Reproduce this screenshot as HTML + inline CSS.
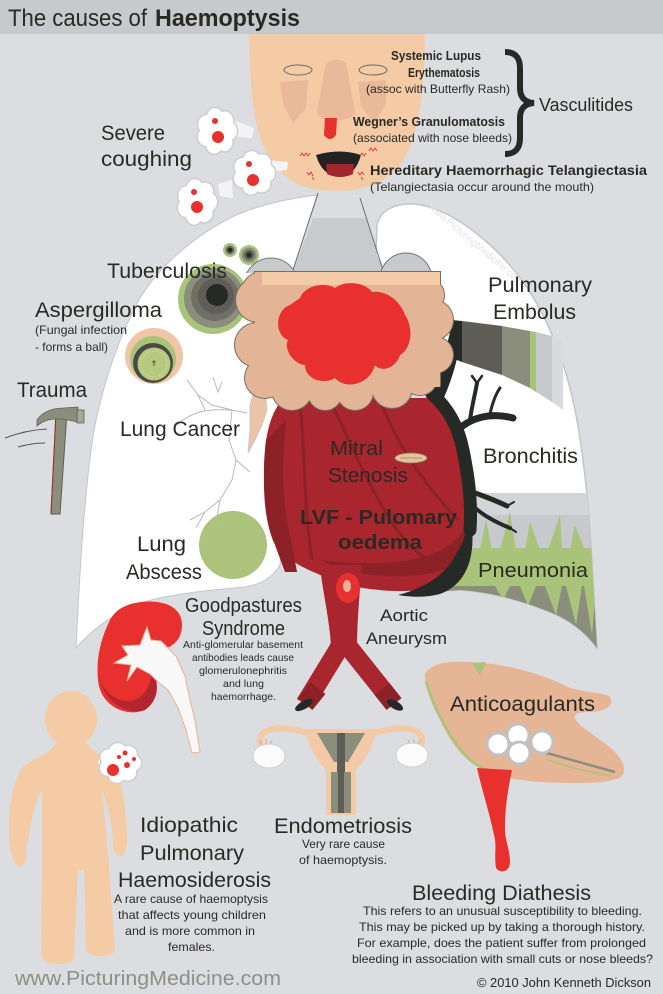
<!DOCTYPE html>
<html><head><meta charset="utf-8"><style>
html,body{margin:0;padding:0;background:#dcdde1;}
svg{display:block;}
</style></head><body>
<svg width="663" height="994" viewBox="0 0 663 994" xmlns="http://www.w3.org/2000/svg" xmlns:xlink="http://www.w3.org/1999/xlink" font-family="'Liberation Sans', sans-serif">
<defs>
<g id="puff">
 <g fill="#cfcfcf">
  <circle cx="0" cy="0" r="14.5"/>
  <circle cx="12" cy="0" r="9.5"/><circle cx="7.4" cy="9.5" r="9.5"/><circle cx="-2.9" cy="11.6" r="9.5"/>
  <circle cx="-11" cy="4.9" r="9.5"/><circle cx="-10.6" cy="-5.6" r="9.5"/><circle cx="-2.1" cy="-11.8" r="9.5"/><circle cx="8" cy="-8.9" r="9.5"/>
 </g>
 <g fill="#ffffff">
  <circle cx="0" cy="0" r="13"/>
  <circle cx="12" cy="0" r="8"/><circle cx="7.4" cy="9.5" r="8"/><circle cx="-2.9" cy="11.6" r="8"/>
  <circle cx="-11" cy="4.9" r="8"/><circle cx="-10.6" cy="-5.6" r="8"/><circle cx="-2.1" cy="-11.8" r="8"/><circle cx="8" cy="-8.9" r="8"/>
 </g>
</g>
<clipPath id="rlung"><path d="M376,255 L377,225 C380,210 395,203 415,204 C450,208 490,240 518,275 C545,310 565,360 575,410 C585,460 590,520 593,580 L597,648 C585,632 570,620 550,612 C520,600 490,592 460,590 L430,592 L430,400 L383,270 Z"/></clipPath>
<clipPath id="abovecloud"><rect x="0" y="0" width="663" height="273"/></clipPath>
</defs>

<!-- background -->
<rect x="0" y="0" width="663" height="994" fill="#dcdde1"/>
<rect x="0" y="0" width="663" height="34" fill="#c8c9cd"/>

<!-- trachea -->
<polygon points="313,218 366,218 383,272 293,272" fill="#c9cacd"/>

<!-- left lung -->
<path d="M318,195 C300,197 260,203 230,218 C195,236 160,265 140,298 C118,338 103,385 94,430 C86,480 82,540 79,590 L76,648 C90,632 110,615 140,603 C170,594 210,590 245,587 C262,584 272,578 280,565 L290,400 L293,270 Z" fill="#ffffff" stroke="#c4c5c9" stroke-width="1"/>
<!-- right lung -->
<path d="M376,255 L377,225 C380,210 395,203 415,204 C450,208 490,240 518,275 C545,310 565,360 575,410 C585,460 590,520 593,580 L597,648 C585,632 570,620 550,612 C520,600 490,592 460,590 L430,592 L430,400 L383,270 Z" fill="#ffffff" stroke="#c4c5c9" stroke-width="1.5"/>

<!-- watermark -->
<text x="0" y="0" transform="translate(428,208) rotate(40)" font-size="10" fill="#e4e4e6" textLength="120" lengthAdjust="spacingAndGlyphs">www.PicturingMedicine.com</text>

<!-- pneumonia region -->
<g clip-path="url(#rlung)">
 <rect x="430" y="493" width="175" height="22" fill="#d4d5d8"/>
 <rect x="430" y="515" width="175" height="35" fill="#c8c9cd"/>
 <g fill="#a9c47a">
  <path d="M480,550 L486,520 L492,550 Z"/><path d="M500,550 L510,512 L516,550 Z"/>
  <path d="M525,550 L530,522 L540,550 Z"/><path d="M548,550 L560,515 L562,550 Z"/>
  <path d="M570,550 L575,525 L585,550 Z"/>
 </g>
 <rect x="430" y="548" width="175" height="40" fill="#a9c47a"/>
 <rect x="430" y="586" width="175" height="80" fill="#8c8e7d"/>
 <g fill="#a9c47a">
  <path d="M495,586 L503,600 L510,586 Z"/><path d="M520,586 L528,606 L536,586 Z"/>
  <path d="M545,586 L556,615 L562,586 Z"/><path d="M566,586 L576,625 L582,586 Z"/>
  <path d="M584,586 L592,635 L596,586 Z"/>
 </g>
</g>

<!-- pulmonary embolus band -->
<path d="M452,320 L462,321 L462,362 L452,358 Z" fill="#262a26"/>
<path d="M462,321 L502,326 L502,375 L462,362 Z" fill="#5d5d55"/>
<path d="M502,326 L530,331 L530,388 L502,375 Z" fill="#8c8e7d"/>
<path d="M530,331 L536,332 L536,392 L530,388 Z" fill="#a9c47a"/>
<path d="M536,332 L552,336 L552,402 L536,392 Z" fill="#c8c9cd"/>
<path d="M552,336 L563,340 L563,410 L552,402 Z" fill="#d9dadd"/>

<!-- tuberculosis -->
<circle cx="230" cy="250" r="7" fill="#a9c47a"/><circle cx="230" cy="250" r="4.5" fill="#6f6f66"/><circle cx="230" cy="250" r="2.5" fill="#262a26"/>
<circle cx="249" cy="255" r="10" fill="#a9c47a"/><circle cx="249" cy="255" r="7.5" fill="#8c8e7d"/><circle cx="249" cy="255" r="5" fill="#5d5d55"/><circle cx="249" cy="255" r="2.5" fill="#262a26"/>
<circle cx="213" cy="299" r="35" fill="#a9c47a"/>
<circle cx="214" cy="298" r="30" fill="#8c8e7d"/>
<circle cx="215" cy="297" r="24" fill="#6f6f66"/>
<circle cx="216" cy="296" r="18" fill="#5d5d55"/>
<circle cx="217" cy="295" r="11" fill="#262a26"/>

<!-- aspergilloma -->
<ellipse cx="154" cy="356" rx="29" ry="28" fill="#f1c6a6"/>
<circle cx="153" cy="359" r="23" fill="#a9c47a"/>
<circle cx="153" cy="363" r="20" fill="#4a4a44"/>
<circle cx="154" cy="364" r="16.5" fill="#b7c97e"/>
<circle cx="154" cy="364" r="13" fill="none" stroke="#d6e0a8" stroke-width="1" stroke-dasharray="1.5,2"/>
<path d="M152,362 L156,362 M154,360 L154,366" stroke="#444" stroke-width="0.8"/>

<!-- lung abscess -->
<circle cx="233" cy="545" r="34" fill="#abc37b"/>

<!-- lung cancer tree -->
<g fill="none" stroke="#b9b9bc" stroke-width="1">
 <path d="M187,380 L198,395 L205,410"/>
 <path d="M213,377 L218,392 L222,382"/>
 <path d="M247,413 C235,410 215,408 200,412 C190,415 182,420 178,425"/>
 <path d="M232,410 L229,440 L236,460 L232,480 L220,500 L205,512 L190,520"/>
 <path d="M236,460 L250,472 M220,500 L216,522 M205,512 L196,528"/>
 <path d="M198,395 L212,405 L232,410"/>
</g>
<path d="M257,383 L265,390 L267,410 L262,425 L255,440 L248,453 L250,430 L250,405 Z" fill="#ecc3a6" stroke="#c9c9cc" stroke-width="1"/>

<!-- trachea lines -->
<path d="M318,193 L293,270" stroke="#6d6d6d" stroke-width="1"/>
<path d="M360,198 L383,270" stroke="#6d6d6d" stroke-width="1"/>

<!-- gray bumps above cloud -->
<g clip-path="url(#abovecloud)">
<circle cx="271" cy="285" r="27" fill="#c8c9cd" stroke="#7a7a74" stroke-width="1"/>
<circle cx="406" cy="279" r="26" fill="#c8c9cd" stroke="#7a7a74" stroke-width="1"/>
</g>

<!-- heart -->
<path d="M285,398 L440,398 C458,408 466,430 468,460 C472,500 472,540 462,565 C450,585 425,592 395,591 C365,590 340,585 318,574 C300,566 285,560 275,540 C265,515 262,480 265,450 C267,425 275,405 285,398 Z" fill="#a9262e"/>
<path d="M266,440 C262,480 263,520 275,545 L285,572 L297,572 L291,540 C283,510 281,470 286,420 Z" fill="#8c2227"/>
<path d="M320,560 C360,580 420,582 455,565 C465,550 470,535 471,515 C460,550 420,572 320,560 Z" fill="#8c2227"/>
<g fill="none" stroke="#8c2227" stroke-width="3">
 <path d="M300,405 C305,440 303,500 312,560"/>
 <path d="M330,400 C345,430 360,470 390,520 C410,550 430,565 455,572"/>
 <path d="M380,400 C395,440 420,480 458,520"/>
</g>
<ellipse cx="411" cy="458" rx="16" ry="5" fill="#e6c29c" stroke="#8c7a60" stroke-width="0.8"/>
<path d="M400,458 L422,458" stroke="#8a8a70" stroke-width="0.8"/>

<!-- bronchitis tree -->
<path d="M452,322 C448,345 440,370 430,392 L442,402 C452,380 460,355 462,325 Z" fill="#262a26"/>
<g fill="none" stroke="#262a26" stroke-linecap="round">
 <path d="M432,394 C447,407 458,425 463,450 C468,475 472,500 470,530" stroke-width="13"/>
 <path d="M458,430 C470,418 490,412 513,418" stroke-width="7"/>
 <path d="M470,420 C472,405 475,395 477,383" stroke-width="4"/>
 <path d="M477,383 L472,376 M477,383 L482,376" stroke-width="2.5"/>
 <path d="M490,414 C492,405 495,395 500,388" stroke-width="3"/>
 <path d="M468,490 C480,495 495,500 507,506" stroke-width="5"/>
 <path d="M472,505 C482,515 495,522 510,528" stroke-width="4"/>
 <path d="M507,506 L514,502 M510,528 L516,532" stroke-width="2"/>
</g>
<path d="M472,528 C475,560 465,585 440,594 C425,598 410,597 398,595 C425,588 445,575 455,556 C462,545 466,535 468,522 Z" fill="#262a26"/>

<!-- aorta -->
<path d="M344,640 L305,704" stroke="#a9262e" stroke-width="19" stroke-linecap="butt"/>
<path d="M343,640 L394,704" stroke="#a9262e" stroke-width="19" stroke-linecap="butt"/>
<path d="M318,688 L305,704" stroke="#8c2227" stroke-width="19"/>
<path d="M382,689 L394,704" stroke="#8c2227" stroke-width="19"/>
<path d="M320,565 L362,565 C360,590 357,620 357,648 L331,648 C330,620 322,590 320,565 Z" fill="#a9262e"/>
<ellipse cx="348" cy="588" rx="12" ry="15" fill="#e8302e"/>
<ellipse cx="347" cy="586" rx="4" ry="6" fill="#e7b296"/>
<ellipse cx="304" cy="705" rx="10" ry="4" transform="rotate(-30 304 705)" fill="#262a26"/>
<ellipse cx="395" cy="705" rx="9" ry="4" transform="rotate(30 395 705)" fill="#262a26"/>

<!-- cloud -->
<g fill="#6f6f68">
 <circle cx="262" cy="292" r="21"/><circle cx="258" cy="300" r="23"/><circle cx="257" cy="345" r="23"/><circle cx="265" cy="378" r="21"/>
 <circle cx="292" cy="390" r="21"/><circle cx="325" cy="393" r="18"/><circle cx="355" cy="392" r="19"/><circle cx="392" cy="388" r="21"/>
 <circle cx="420" cy="378" r="18"/><circle cx="435" cy="355" r="19"/><circle cx="433" cy="320" r="21"/><circle cx="428" cy="295" r="17"/>
 <rect x="254" y="271" width="187" height="116"/>
</g>
<g fill="#e4b496">
 <circle cx="262" cy="292" r="20"/><circle cx="258" cy="300" r="22"/><circle cx="257" cy="345" r="22"/><circle cx="265" cy="378" r="20"/>
 <circle cx="292" cy="390" r="20"/><circle cx="325" cy="393" r="17"/><circle cx="355" cy="392" r="18"/><circle cx="392" cy="388" r="20"/>
 <circle cx="420" cy="378" r="17"/><circle cx="435" cy="355" r="18"/><circle cx="433" cy="320" r="20"/><circle cx="428" cy="295" r="16"/>
 <rect x="255" y="272" width="185" height="115"/>
</g>
<rect x="262" y="272" width="178" height="13" fill="#f3cba7"/>
<path d="M300,298 C305,285 325,282 335,288 C345,280 365,282 372,292 C385,290 400,300 405,315 C415,330 410,350 400,355 C395,370 380,372 375,365 C370,385 345,390 335,378 C325,385 305,380 305,365 C295,365 283,350 288,340 C274,335 275,310 290,305 Z" fill="#e8302e"/>

<!-- face -->
<path d="M249,34 L425,34 C424,100 418,140 400,165 C385,183 365,191 335,191 C305,191 288,182 274,165 C255,140 250,100 249,34 Z" fill="#f5cba6"/>
<path d="M280,82 L308,80 L306,108 L293,123 L283,104 Z" fill="#e9b99a"/>
<path d="M358,82 L386,80 L386,104 L374,123 L361,106 Z" fill="#e9b99a"/>
<path d="M326,63 C332,59 342,59 346,63 L355,112 C353,123 320,123 317,112 Z" fill="#e9b99a"/>
<ellipse cx="298" cy="70" rx="14" ry="5" fill="#f5cba6" stroke="#6a6a66" stroke-width="1"/>
<ellipse cx="373" cy="70" rx="14" ry="5" fill="#f5cba6" stroke="#6a6a66" stroke-width="1"/>
<path d="M325,118 L337,118 L336,135 Q330,143 324,135 Z" fill="#e8302e"/>
<path d="M316,155 Q340,148 361,155 Q355,176 340,177 Q322,176 316,155 Z" fill="#222"/>
<path d="M326,164 L354,164 L353,174 Q340,180 327,174 Z" fill="#a1262e"/>
<g fill="none" stroke="#e8302e" stroke-width="0.9">
 <path d="M300,156 l2,-3 l2,3 l2,-3 l2,3 l2,-3"/>
 <path d="M360,156 l2,-3 l2,3 l2,-3 M369,151 l2,-3 l2,3 l2,-3 l2,3"/>
 <path d="M307,172 l2,3 l2,-3 l2,4 M312,177 l2,3"/>
 <path d="M358,172 l2,3 l2,-3 l2,3 M361,177 l2,3"/>
</g>

<!-- vasculitides brace -->
<path d="M505,52 Q520,52 520,68 L520,88 Q520,102 534,103 Q520,104 520,118 L520,138 Q520,154 505,154" fill="none" stroke="#262a26" stroke-width="6"/>

<!-- cough puffs -->
<polygon points="232,120 254,128 252,138 230,136" fill="#f4f4f5"/>
<polygon points="268,160 288,162 287,170 268,172" fill="#f4f4f5"/>
<polygon points="218,184 232,180 233,198 220,196" fill="#f4f4f5"/>
<use xlink:href="#puff" href="#puff" transform="translate(217,131) scale(1,1.15)"/>
<use xlink:href="#puff" href="#puff" transform="translate(254,173) scale(1.05,1.1)"/>
<use xlink:href="#puff" href="#puff" transform="translate(197,202) scale(1,1.15)"/>
<g fill="#e8302e">
 <circle cx="215" cy="121" r="3"/><circle cx="218" cy="137" r="6"/>
 <circle cx="249" cy="164" r="3"/><circle cx="253" cy="180" r="6"/>
 <circle cx="194" cy="192" r="3"/><circle cx="197" cy="207" r="6"/>
</g>

<!-- hammer -->
<path d="M56,412 L67,412 L60,514 L51,514 Z" fill="#8c8e7d" stroke="#5d5d55" stroke-width="1"/>
<path d="M56,413 L51,513" stroke="#a52a2a" stroke-width="1"/>
<path d="M37,420 C44,410 55,408 64,408 L78,407 L78,422 L68,420 C58,418 46,418 37,426 Z" fill="#8c8e7d" stroke="#5d5d55" stroke-width="0.8"/>
<rect x="77" y="410" width="7" height="13" fill="#a5a797" stroke="#5d5d55" stroke-width="0.8"/>
<path d="M5,438 Q26,430 47,429" fill="none" stroke="#555" stroke-width="1"/>
<path d="M18,447 Q32,443 45,443" fill="none" stroke="#555" stroke-width="1"/>

<!-- kidney -->
<path d="M135,603 C160,598 182,605 182,625 C182,640 172,648 160,650 L150,665 C160,680 160,700 145,710 C125,718 100,705 98,680 C96,660 100,640 110,620 C115,610 125,605 135,603 Z" fill="#e8302e"/>
<path d="M100,680 C105,700 125,716 145,710 C158,700 160,686 152,672 C150,690 140,705 120,700 C110,696 104,690 100,680 Z" fill="#b32630"/>
<path d="M147,627 L151,640 L161,641 L176,656 L185,676 L190,700 L195,720 L200,752 L192,753 L186,730 L178,708 L168,690 L158,682 L150,674 L137,667 L127,681 L131,665 L114,663 L128,655 L122,646 L140,645 Z" fill="#f8f8f8" stroke="#e7b296" stroke-width="1"/>

<!-- child -->
<ellipse cx="71" cy="719" rx="26" ry="28" fill="#f5cba6"/>
<path d="M58,742 L86,742 L92,750 C100,754 108,758 114,766 C121,780 125,800 126,820 C128,835 128,850 122,856 C116,858 112,850 113,840 C112,825 108,805 102,790 C105,820 108,850 110,880 L115,950 C112,958 88,958 86,950 L84,870 L78,870 L74,958 C72,966 45,966 42,958 C40,930 42,900 42,870 L42,790 C36,800 32,815 30,830 L26,850 C28,860 24,868 18,866 C10,858 8,840 9,820 C10,800 14,780 22,768 C30,760 45,756 50,750 Z" fill="#f5cba6"/>
<polygon points="98,760 108,752 112,772 100,774" fill="#f4f4f5"/>
<use xlink:href="#puff" href="#puff" transform="translate(120,763) scale(1.05,1)"/>
<g fill="#e8302e">
 <circle cx="113" cy="770" r="6"/><circle cx="127" cy="765" r="3"/><circle cx="125" cy="753" r="2.5"/><circle cx="134" cy="759" r="2"/><circle cx="119" cy="757" r="2"/>
</g>

<!-- uterus -->
<path d="M262,748 C252,728 280,722 312,735" fill="none" stroke="#f3c9a6" stroke-width="6"/>
<path d="M420,748 C430,728 402,722 370,735" fill="none" stroke="#f3c9a6" stroke-width="6"/>
<path d="M305,729 L377,729 C373,750 362,764 356,770 L356,815 L326,815 L326,770 C320,764 309,750 305,729 Z" fill="#f3c9a6"/>
<path d="M317,733 L365,733 L348,762 L334,762 Z" fill="#8c8e7d"/>
<rect x="337" y="733" width="8" height="70" fill="#5d5d55"/>
<rect x="331" y="772" width="20" height="41" fill="#8c8e7d"/>
<rect x="338" y="772" width="6" height="41" fill="#5d5d55"/>
<g stroke="#d9a98a" stroke-width="1" fill="none">
 <path d="M262,745 l-2,-5 M266,744 l0,-5 M270,745 l2,-5"/>
 <path d="M410,745 l-2,-5 M414,744 l0,-5 M418,745 l2,-5"/>
</g>
<ellipse cx="269" cy="756" rx="16" ry="12" fill="#fbfbfb" stroke="#cfcfcf" stroke-width="1"/>
<ellipse cx="412" cy="755" rx="16" ry="12" fill="#fbfbfb" stroke="#cfcfcf" stroke-width="1"/>

<!-- hand -->
<path d="M425,674 C432,662 450,661 470,662 C510,664 545,675 570,688 C590,693 605,693 610,697 C615,705 605,712 590,712 C575,712 570,715 580,725 L600,740 C615,750 625,760 624,772 C622,782 600,783 570,783 C540,783 510,780 490,773 C470,765 455,750 445,730 C435,710 424,690 425,674 Z" fill="#e6b596"/>
<path d="M426,682 C435,710 450,740 470,760 C480,768 490,772 500,774" fill="none" stroke="#a9c47a" stroke-width="2.5"/>
<path d="M543,752 C565,758 590,765 615,772" fill="none" stroke="#8c8e7d" stroke-width="2.5"/>
<path d="M548,760 C570,768 590,772 610,776" fill="none" stroke="#a9c47a" stroke-width="1.5"/>
<path d="M472,663 L486,662 L480,676 Z" fill="#a9c47a"/>
<g fill="#ffffff" stroke="#c0c1c5" stroke-width="3">
 <circle cx="498" cy="744" r="11"/><circle cx="518" cy="735" r="11"/><circle cx="542" cy="742" r="11"/><circle cx="519" cy="753" r="11"/>
</g>
<path d="M477,768 L512,770 C508,790 505,805 505,830 C505,840 510,850 510,862 C510,872 500,874 496,868 C494,855 497,845 494,835 C490,815 482,790 477,768 Z" fill="#e8302e"/>

<!-- TEXT -->
<g fill="#2a2a24">
<text x="8" y="26" font-size="24" textLength="139" lengthAdjust="spacingAndGlyphs">The causes of</text>
<text x="155" y="26" font-size="24" font-weight="bold" textLength="145" lengthAdjust="spacingAndGlyphs">Haemoptysis</text>

<text x="391" y="60" font-size="12.5" font-weight="bold" textLength="90" lengthAdjust="spacingAndGlyphs">Systemic Lupus</text>
<text x="408" y="77" font-size="12.5" font-weight="bold" textLength="72" lengthAdjust="spacingAndGlyphs">Erythematosis</text>
<text x="366" y="93" font-size="12" textLength="144" lengthAdjust="spacingAndGlyphs">(assoc with Butterfly Rash)</text>
<text x="539" y="111" font-size="18" textLength="94" lengthAdjust="spacingAndGlyphs">Vasculitides</text>
<text x="353" y="126" font-size="12.5" font-weight="bold" textLength="152" lengthAdjust="spacingAndGlyphs">Wegner’s Granulomatosis</text>
<text x="353" y="142" font-size="12" textLength="159" lengthAdjust="spacingAndGlyphs">(associated with nose bleeds)</text>
<text x="370" y="175" font-size="13.5" font-weight="bold" textLength="277" lengthAdjust="spacingAndGlyphs">Hereditary Haemorrhagic Telangiectasia</text>
<text x="370" y="191" font-size="12" textLength="224" lengthAdjust="spacingAndGlyphs">(Telangiectasia occur around the mouth)</text>

<text x="101" y="140" font-size="21" textLength="64" lengthAdjust="spacingAndGlyphs">Severe</text>
<text x="101" y="166" font-size="21" textLength="91" lengthAdjust="spacingAndGlyphs">coughing</text>

<text x="107" y="278" font-size="21" textLength="120" lengthAdjust="spacingAndGlyphs">Tuberculosis</text>
<text x="35" y="317" font-size="21" textLength="127" lengthAdjust="spacingAndGlyphs">Aspergilloma</text>
<text x="35" y="334" font-size="12" textLength="92" lengthAdjust="spacingAndGlyphs">(Fungal infection</text>
<text x="35" y="351" font-size="12" textLength="73" lengthAdjust="spacingAndGlyphs">- forms a ball)</text>
<text x="17" y="397" font-size="21" textLength="70" lengthAdjust="spacingAndGlyphs">Trauma</text>
<text x="120" y="436" font-size="21" textLength="120" lengthAdjust="spacingAndGlyphs">Lung Cancer</text>

<text x="488" y="292" font-size="21" textLength="104" lengthAdjust="spacingAndGlyphs">Pulmonary</text>
<text x="493" y="319" font-size="21" textLength="83" lengthAdjust="spacingAndGlyphs">Embolus</text>
<text x="483" y="463" font-size="21" textLength="95" lengthAdjust="spacingAndGlyphs">Bronchitis</text>

<text x="330" y="455" font-size="20" textLength="53" lengthAdjust="spacingAndGlyphs">Mitral</text>
<text x="328" y="482" font-size="20" textLength="80" lengthAdjust="spacingAndGlyphs">Stenosis</text>
<text x="300" y="524" font-size="20" font-weight="bold" textLength="157" lengthAdjust="spacingAndGlyphs">LVF - Pulomary</text>
<text x="338" y="549" font-size="20" font-weight="bold" textLength="84" lengthAdjust="spacingAndGlyphs">oedema</text>

<text x="137" y="551" font-size="21" textLength="49" lengthAdjust="spacingAndGlyphs">Lung</text>
<text x="126" y="579" font-size="21" textLength="76" lengthAdjust="spacingAndGlyphs">Abscess</text>
<text x="478" y="577" font-size="20" textLength="110" lengthAdjust="spacingAndGlyphs">Pneumonia</text>

<text x="185" y="612" font-size="20" textLength="117" lengthAdjust="spacingAndGlyphs">Goodpastures</text>
<text x="202" y="635" font-size="20" textLength="83" lengthAdjust="spacingAndGlyphs">Syndrome</text>
<text x="183" y="648" font-size="10.5" textLength="120" lengthAdjust="spacingAndGlyphs">Anti-glomerular basement</text>
<text x="192" y="661" font-size="10.5" textLength="102" lengthAdjust="spacingAndGlyphs">antibodies leads cause</text>
<text x="199" y="674" font-size="10.5" textLength="88" lengthAdjust="spacingAndGlyphs">glomerulonephritis</text>
<text x="223" y="687" font-size="10.5" textLength="41" lengthAdjust="spacingAndGlyphs">and lung</text>
<text x="211" y="700" font-size="10.5" textLength="65" lengthAdjust="spacingAndGlyphs">haemorrhage.</text>

<text x="380" y="621" font-size="17" textLength="48" lengthAdjust="spacingAndGlyphs">Aortic</text>
<text x="366" y="644" font-size="17" textLength="81" lengthAdjust="spacingAndGlyphs">Aneurysm</text>

<text x="450" y="711" font-size="21" textLength="145" lengthAdjust="spacingAndGlyphs">Anticoagulants</text>

<text x="140" y="832" font-size="21" textLength="98" lengthAdjust="spacingAndGlyphs">Idiopathic</text>
<text x="140" y="860" font-size="21" textLength="104" lengthAdjust="spacingAndGlyphs">Pulmonary</text>
<text x="118" y="887" font-size="21" textLength="153" lengthAdjust="spacingAndGlyphs">Haemosiderosis</text>
<text x="114" y="903" font-size="12" textLength="154" lengthAdjust="spacingAndGlyphs">A rare cause of haemoptysis</text>
<text x="118" y="919" font-size="12" textLength="148" lengthAdjust="spacingAndGlyphs">that affects young children</text>
<text x="125" y="935" font-size="12" textLength="130" lengthAdjust="spacingAndGlyphs">and is more common in</text>
<text x="168" y="951" font-size="12" textLength="47" lengthAdjust="spacingAndGlyphs">females.</text>

<text x="274" y="833" font-size="21" textLength="138" lengthAdjust="spacingAndGlyphs">Endometriosis</text>
<text x="302" y="848" font-size="12" textLength="83" lengthAdjust="spacingAndGlyphs">Very rare cause</text>
<text x="299" y="864" font-size="12" textLength="88" lengthAdjust="spacingAndGlyphs">of haemoptysis.</text>

<text x="412" y="900" font-size="21" textLength="179" lengthAdjust="spacingAndGlyphs">Bleeding Diathesis</text>
<text x="363" y="915" font-size="12" textLength="279" lengthAdjust="spacingAndGlyphs">This refers to an unusual susceptibility to bleeding.</text>
<text x="359" y="931" font-size="12" textLength="286" lengthAdjust="spacingAndGlyphs">This may be picked up by taking a thorough history.</text>
<text x="357" y="947" font-size="12" textLength="289" lengthAdjust="spacingAndGlyphs">For example, does the patient suffer from prolonged</text>
<text x="352" y="963" font-size="12" textLength="301" lengthAdjust="spacingAndGlyphs">bleeding in association with small cuts or nose bleeds?</text>

<text x="477" y="987" font-size="12.5" textLength="174" lengthAdjust="spacingAndGlyphs">© 2010 John Kenneth Dickson</text>
</g>
<text x="15" y="985" font-size="20" fill="#8e8f86" textLength="266" lengthAdjust="spacingAndGlyphs">www.PicturingMedicine.com</text>
</svg>
</body></html>
